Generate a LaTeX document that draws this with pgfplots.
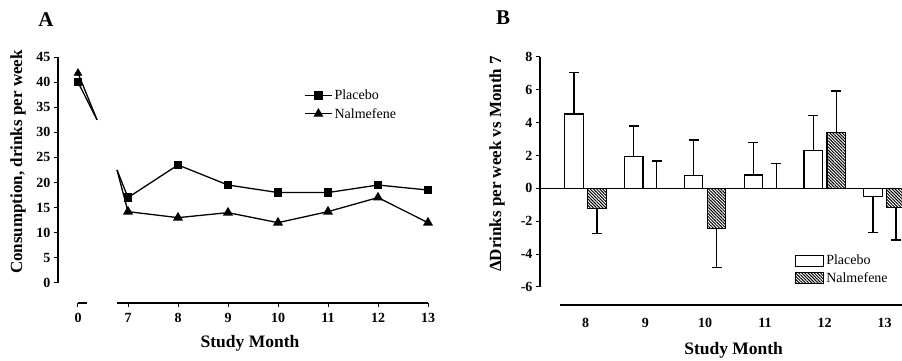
\documentclass[border=0pt]{standalone}
\usepackage{fontspec}
\setmainfont{Liberation Serif}
\usepackage{pgfplots}
\pgfplotsset{compat=1.18}
\usetikzlibrary{patterns.meta}
\begin{document}
\begin{tikzpicture}[x=1pt,y=1pt]
\useasboundingbox (0,0) rectangle (902,361);
\node[font=\fontsize{21}{21}\selectfont\bfseries] at (46,341) {A};
\node[font=\fontsize{21}{21}\selectfont\bfseries] at (503,343) {B};
% ---------------- Panel A ----------------
\begin{axis}[
  at={(58pt,58pt)}, anchor=south west,
  scale only axis, width=370pt, height=246pt,
  xmin=5.6, xmax=13, ymin=-4, ymax=45,
  axis lines*=left, axis line style={draw=none},
  clip=false,
  tick align=outside, major tick length=4pt,
  tick style={black, line width=1pt},
  ytick={0,5,...,45},
  xtick={6,7,8,9,10,11,12,13},
  xticklabels={0,7,8,9,10,11,12,13},
  /pgf/number format/assume math mode=true,
  ticklabel style={font=\fontsize{14}{14}\selectfont\bfseries},
  xticklabel style={yshift=-3pt},
  ylabel={Consumption, drinks per week},
  ylabel style={at={(axis description cs:-0.108,0.573)}, anchor=center, font=\fontsize{17}{17}\selectfont\bfseries},
  xlabel={Study Month},
  xlabel style={at={(axis description cs:0.519,-0.163)}, anchor=center, font=\fontsize{17.5}{17.5}\selectfont\bfseries},
  legend style={at={(axis description cs:0.665,0.875)}, anchor=north west, draw=none, fill=none,
    font=\fontsize{14}{14}\selectfont, row sep=3pt, inner sep=0pt},
  legend cell align=left,
  legend image code/.code={\draw[#1] (0pt,0pt) -- (27pt,0pt); \draw[#1, draw=none] plot[mark repeat=1] coordinates {(13.5pt,0pt)};},
]
\draw[line width=1.2pt] (axis cs:5.6,0) -- (axis cs:5.6,45);
\draw[line width=1.2pt] (axis cs:6.78,-4) -- (axis cs:13,-4);
\draw[line width=1.2pt] (axis cs:6.0,-4) -- (axis cs:6.18,-4);
\addplot[black, line width=1.3pt, mark=square*, mark size=3.5pt] coordinates {
 (7,17) (8,23.5) (9,19.5) (10,18) (11,18) (12,19.5) (13,18.5)};
\addlegendentry{Placebo}
\addplot[black, line width=1.3pt, mark=triangle*, mark size=4.5pt] coordinates {
 (7,14.2) (8,13) (9,14) (10,12) (11,14.2) (12,17) (13,12)};
\addlegendentry{Nalmefene}
\addplot[black, line width=1.3pt, forget plot] coordinates {(6,40) (6.38,32.5)};
\addplot[black, line width=1.3pt, forget plot] coordinates {(6.78,22.5) (7,17)};
\addplot[black, line width=1.3pt, forget plot] coordinates {(6,41.8) (6.38,32.5)};
\addplot[black, line width=1.3pt, forget plot] coordinates {(6.78,22.5) (7,14.2)};
\addplot[black, only marks, mark=square*, mark size=3.5pt, forget plot] coordinates {(6,40)};
\addplot[black, only marks, mark=triangle*, mark size=4.5pt, forget plot] coordinates {(6,41.8)};
\end{axis}
% ---------------- Panel B ----------------
\begin{axis}[
  at={(540pt,56pt)}, anchor=south west,
  scale only axis, width=380.4pt, height=248pt,
  xmin=7.239, xmax=13.6, ymin=-7.1, ymax=8,
  axis lines*=left, axis line style={draw=none},
  clip=false,
  tick align=outside, major tick length=4pt,
  tick style={black, line width=1pt},
  ytick={-6,-4,...,8},
  xtick={8,9,10,11,12,13},
  x tick style={draw=none},
  /pgf/number format/assume math mode=true,
  ticklabel style={font=\fontsize{14}{14}\selectfont\bfseries},
  xticklabel style={yshift=-6pt},
  ylabel={ΔDrinks per week vs Month 7},
  ylabel style={at={(axis description cs:-0.113,0.569)}, anchor=center, font=\fontsize{17}{17}\selectfont\bfseries},
  xlabel={Study Month},
  xlabel style={at={(axis description cs:0.509,-0.181)}, anchor=center, font=\fontsize{17.5}{17.5}\selectfont\bfseries},
  legend style={at={(axis description cs:0.67,0.21)}, anchor=north west, draw=none, fill=none,
    font=\fontsize{14}{14}\selectfont, row sep=2pt, inner sep=0pt},
  legend cell align=left,
  legend image code/.code={\draw[#1] (0pt,-5.5pt) rectangle (28pt,5.5pt);},
]
\draw[line width=1.6pt] (axis cs:7.239,0) -- (axis cs:13.6,0);
\draw[line width=1.2pt] (axis cs:7.239,-6) -- (axis cs:7.239,8);
\draw[line width=1.4pt] (axis cs:7.574,-7.1) -- (axis cs:13.6,-7.1);
\addplot[ybar, bar width=18.5pt, bar shift=0pt, fill=white, draw=black, line width=1.2pt,
  error bars/.cd, y dir=both, y explicit, error bar style={line width=1.3pt, black},
  error mark options={rotate=90, mark size=5pt, line width=1.3pt, black}]
 coordinates {
 (7.8077,4.53) += (0,2.54) -= (0,0)
 (8.8077,1.93) += (0,1.87) -= (0,0)
 (9.8077,0.77) += (0,2.18) -= (0,0)
 (10.8077,0.82) += (0,1.96) -= (0,0)
 (11.8077,2.3) += (0,2.13) -= (0,0)
 (12.8077,-0.5) += (0,0) -= (0,2.17)
};
\addlegendentry{Placebo}
\addplot[ybar, bar width=18.5pt, bar shift=0pt, draw=black, line width=1.2pt,
  pattern={Lines[angle=-45,distance=2.2pt,line width=1pt]},
  error bars/.cd, y dir=both, y explicit, error bar style={line width=1.3pt, black},
  error mark options={rotate=90, mark size=5pt, line width=1.3pt, black}]
 coordinates {
 (8.1923,-1.21) += (0,0) -= (0,1.53)
 (9.1923,0) += (0,1.67) -= (0,0)
 (10.1923,-2.43) += (0,0) -= (0,2.38)
 (11.1923,0) += (0,1.53) -= (0,0)
 (12.1923,3.39) += (0,2.54) -= (0,0)
 (13.1923,-1.15) += (0,0) -= (0,1.99)
};
\addlegendentry{Nalmefene}
\end{axis}
\end{tikzpicture}
\end{document}
